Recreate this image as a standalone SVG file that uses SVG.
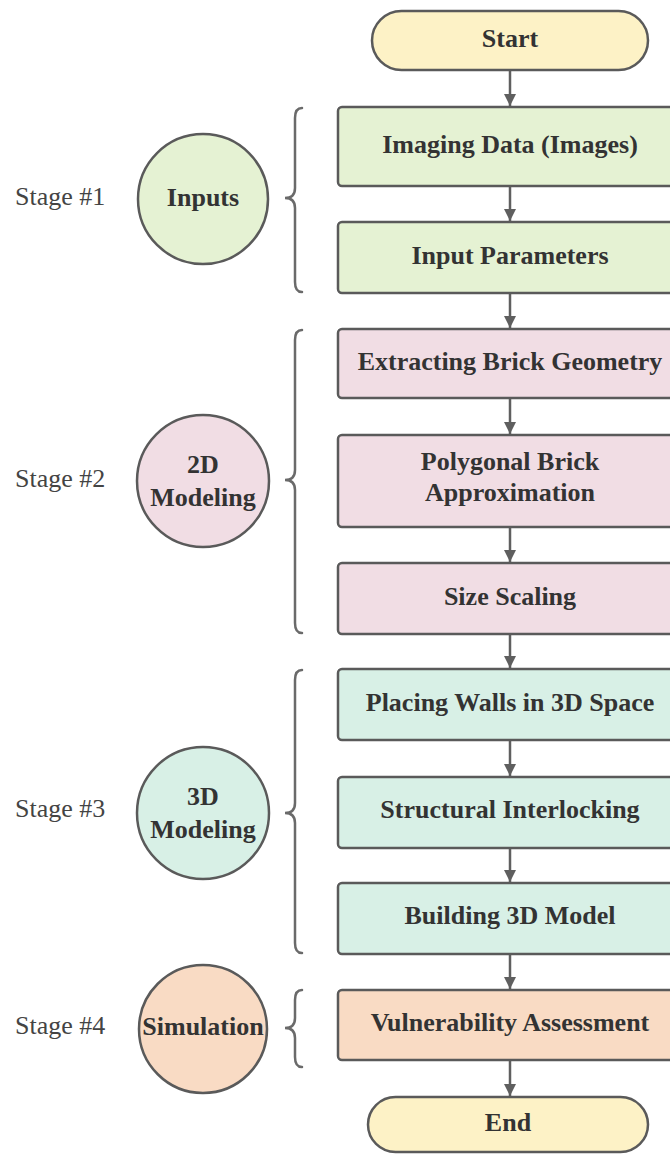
<svg xmlns="http://www.w3.org/2000/svg" width="670" height="1154" viewBox="0 0 670 1154">
  <defs>
    <marker id="arrow" viewBox="0 0 10 10" refX="10" refY="5" markerWidth="12" markerHeight="12" markerUnits="userSpaceOnUse" orient="auto">
      <path d="M0,0 L10,5 L0,10 Z" fill="#5f5f5f"/>
    </marker>
  </defs>
  <style>
    .box { stroke: #5a5a5a; stroke-width: 2.5; }
    .term { fill: #fdf2c6; }
    .g1 { fill: #e5f2d3; }
    .g2 { fill: #f1dde4; }
    .g3 { fill: #d8f0e6; }
    .g4 { fill: #f9dbc4; }
    .lbl { font-family: "Liberation Serif", serif; font-weight: bold; font-size: 26px; fill: #333333; text-anchor: middle; dominant-baseline: central; }
    .stage { font-family: "Liberation Serif", serif; font-size: 26px; fill: #444444; dominant-baseline: central; }
    .brace { fill: none; stroke: #6a6a6a; stroke-width: 2.5; stroke-linecap: round; }
    .conn { stroke: #5f5f5f; stroke-width: 2.5; fill: none; }
  </style>

  <rect width="670" height="1154" fill="#ffffff"/>

  <!-- connectors -->
  <g id="connectors">
    <line class="conn" x1="510" y1="71" x2="510" y2="106" marker-end="url(#arrow)"/>
    <line class="conn" x1="510" y1="187" x2="510" y2="221" marker-end="url(#arrow)"/>
    <line class="conn" x1="510" y1="294" x2="510" y2="328" marker-end="url(#arrow)"/>
    <line class="conn" x1="510" y1="399" x2="510" y2="434" marker-end="url(#arrow)"/>
    <line class="conn" x1="510" y1="528" x2="510" y2="562" marker-end="url(#arrow)"/>
    <line class="conn" x1="510" y1="635" x2="510" y2="668" marker-end="url(#arrow)"/>
    <line class="conn" x1="510" y1="741" x2="510" y2="776" marker-end="url(#arrow)"/>
    <line class="conn" x1="510" y1="849" x2="510" y2="882" marker-end="url(#arrow)"/>
    <line class="conn" x1="510" y1="955" x2="510" y2="989" marker-end="url(#arrow)"/>
    <line class="conn" x1="510" y1="1061" x2="510" y2="1096" marker-end="url(#arrow)"/>
  </g>

  <!-- terminals -->
  <g id="start">
    <rect class="box term" x="372" y="11" width="276" height="59" rx="29.5"/>
    <text class="lbl" x="510" y="38">Start</text>
  </g>
  <g id="end">
    <rect class="box term" x="368" y="1097" width="280" height="55" rx="27.5"/>
    <text class="lbl" x="508" y="1122">End</text>
  </g>

  <!-- stage 1 -->
  <g id="imaging-data">
    <rect class="box g1" x="338" y="107" width="346" height="79" rx="4"/>
    <text class="lbl" x="510" y="144">Imaging Data (Images)</text>
  </g>
  <g id="input-parameters">
    <rect class="box g1" x="338" y="222" width="346" height="71" rx="4"/>
    <text class="lbl" x="510" y="255">Input Parameters</text>
  </g>

  <!-- stage 2 -->
  <g id="extracting-geometry">
    <rect class="box g2" x="338" y="329" width="346" height="69" rx="4"/>
    <text class="lbl" x="510" y="361">Extracting Brick Geometry</text>
  </g>
  <g id="polygonal-approximation">
    <rect class="box g2" x="338" y="435" width="346" height="92" rx="4"/>
    <text class="lbl" x="510" y="461">Polygonal Brick</text>
    <text class="lbl" x="510" y="492">Approximation</text>
  </g>
  <g id="size-scaling">
    <rect class="box g2" x="338" y="563" width="346" height="71" rx="4"/>
    <text class="lbl" x="510" y="596">Size Scaling</text>
  </g>

  <!-- stage 3 -->
  <g id="placing-walls">
    <rect class="box g3" x="338" y="669" width="346" height="71" rx="4"/>
    <text class="lbl" x="510" y="702">Placing Walls in 3D Space</text>
  </g>
  <g id="structural-interlocking">
    <rect class="box g3" x="338" y="777" width="346" height="71" rx="4"/>
    <text class="lbl" x="510" y="809">Structural Interlocking</text>
  </g>
  <g id="building-model">
    <rect class="box g3" x="338" y="883" width="346" height="71" rx="4"/>
    <text class="lbl" x="510" y="915">Building 3D Model</text>
  </g>

  <!-- stage 4 -->
  <g id="vulnerability-assessment">
    <rect class="box g4" x="338" y="990" width="346" height="70" rx="4"/>
    <text class="lbl" x="510" y="1022">Vulnerability Assessment</text>
  </g>

  <!-- stage circles -->
  <g id="stage1">
    <text class="stage" x="15" y="196">Stage #1</text>
    <circle class="box g1" cx="203" cy="199" r="65"/>
    <text class="lbl" x="203" y="197">Inputs</text>
    <path class="brace" d="M302,108 Q295,108 295,118 L295,188 Q295,198 285,198 Q295,198 295,208 L295,282 Q295,292 302,292"/>
  </g>
  <g id="stage2">
    <text class="stage" x="15" y="478">Stage #2</text>
    <circle class="box g2" cx="203" cy="481" r="66"/>
    <text class="lbl" x="203" y="464">2D</text>
    <text class="lbl" x="203" y="497">Modeling</text>
    <path class="brace" d="M302,330 Q295,330 295,340 L295,470 Q295,480 285,480 Q295,480 295,490 L295,623 Q295,633 302,633"/>
  </g>
  <g id="stage3">
    <text class="stage" x="15" y="808">Stage #3</text>
    <circle class="box g3" cx="203" cy="813" r="66"/>
    <text class="lbl" x="203" y="796">3D</text>
    <text class="lbl" x="203" y="829">Modeling</text>
    <path class="brace" d="M302,670 Q295,670 295,680 L295,803 Q295,813 285,813 Q295,813 295,823 L295,943 Q295,953 302,953"/>
  </g>
  <g id="stage4">
    <text class="stage" x="15" y="1025">Stage #4</text>
    <circle class="box g4" cx="203" cy="1029" r="64"/>
    <text class="lbl" x="203" y="1026">Simulation</text>
    <path class="brace" d="M302,990 Q295,990 295,1000 L295,1018 Q295,1028 285,1028 Q295,1028 295,1038 L295,1057 Q295,1067 302,1067"/>
  </g>
</svg>
